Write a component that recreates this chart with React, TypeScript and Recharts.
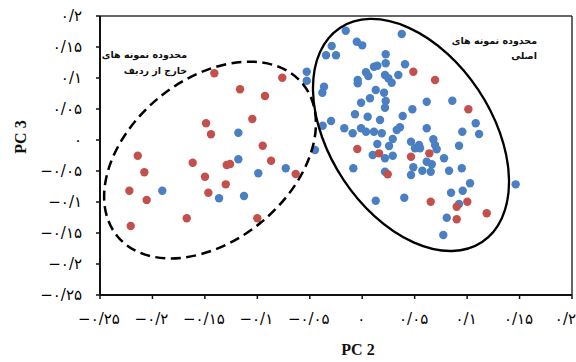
import React from "react";
import {
  ScatterChart,
  Scatter,
  XAxis,
  YAxis,
  ReferenceLine,
  ReferenceDot,
} from "recharts";

// axis ticks (same for both axes) and their Persian labels
const TICKS = [-0.25, -0.2, -0.15, -0.1, -0.05, 0, 0.05, 0.1, 0.15, 0.2];
const TICK_LABELS = [
  "−۰/۲۵",
  "−۰/۲",
  "−۰/۱۵",
  "−۰/۱",
  "−۰/۰۵",
  "۰",
  "۰/۰۵",
  "۰/۱",
  "۰/۱۵",
  "۰/۲",
];

// [PC2, PC3] pairs
const mainBlue: [number, number][] = [
  [-0.0157, 0.1763], [0.0377, 0.171], [-0.0291, 0.1516], [-0.0052, 0.1585], [0.0, 0.1527],
  [-0.0345, 0.1366], [-0.025, 0.1366], [0.0224, 0.1382], [0.0224, 0.1237], [0.0408, 0.1221],
  [0.0112, 0.1182], [0.0144, 0.1198], [0.0036, 0.1092], [0.0058, 0.1032], [-0.0043, 0.0968],
  [-0.0043, 0.0915], [0.0217, 0.1048], [0.0249, 0.0995], [0.0281, 0.0924], [0.0344, 0.1048],
  [-0.0364, 0.086], [-0.038, 0.0763], [0.0129, 0.0806], [0.0208, 0.0763], [0.0074, 0.0673],
  [-0.0011, 0.0602], [0.0224, 0.0629], [0.0217, 0.0521], [0.0615, 0.0618], [-0.0069, 0.0415],
  [0.0052, 0.0376], [0.017, 0.0323], [0.0386, 0.0387], [0.0478, 0.0495], [-0.0297, 0.0306],
  [-0.0377, 0.0231], [-0.0171, 0.0189], [-0.0011, 0.0189], [0.0036, 0.0134], [0.0112, 0.0134],
  [0.0186, 0.0108], [0.0329, 0.0161], [0.036, 0.0205], [0.0615, 0.0189], [-0.0091, 0.0108],
  [0.0859, 0.0634], [0.1082, 0.0269], [0.0954, 0.0134], [0.1114, 0.0097], [0.0144, -0.0065],
  [0.0256, -0.0097], [0.0291, 0.0016], [0.01, -0.0242], [0.0217, -0.0295], [0.0291, -0.0253],
  [0.0465, -0.0027], [0.0503, -0.0134], [0.0542, -0.0081], [0.0551, -0.0134], [0.0678, 0.0011],
  [0.0694, -0.0081], [0.071, -0.015], [0.0923, -0.0092], [0.078, -0.0295], [0.0615, -0.035],
  [0.0663, -0.0392], [0.0487, -0.044], [0.0573, -0.0495], [0.0653, -0.0511], [0.0465, -0.0565],
  [-0.0085, -0.0456], [0.0217, -0.0511], [0.0828, -0.0495], [0.0949, -0.0456], [0.1028, -0.0698],
  [0.0958, -0.0818], [0.0847, -0.085], [0.1463, -0.0715], [0.0129, -0.0979], [0.0401, -0.0931],
  [0.0923, -0.1032], [0.0806, -0.1253], [0.0773, -0.1532],
];

const mainRed: [number, number][] = [
  [0.0487, 0.1102], [0.0694, 0.0968], [0.1012, 0.0495], [-0.0047, -0.0145], [0.016, -0.0215],
  [0.0465, -0.0269], [0.064, -0.0215], [0.0243, -0.0553], [0.0653, -0.0995], [0.1002, -0.0995],
  [0.0901, -0.1076], [0.1187, -0.1182], [0.0901, -0.1279],
];

const outlierBlue: [number, number][] = [
  [-0.0529, 0.1102], [-0.0529, 0.0956], [-0.045, -0.0161], [-0.1181, 0.0118], [-0.1181, -0.0311],
  [-0.0729, -0.0456], [-0.0991, -0.0537], [-0.1906, -0.0818], [-0.1365, -0.094], [-0.1127, -0.0903],
];

const outlierRed: [number, number][] = [
  [-0.141, 0.1076], [-0.0762, 0.1005], [-0.1165, 0.0818], [-0.0927, 0.071], [-0.1048, 0.0339],
  [-0.1489, 0.0269], [-0.1442, 0.0092], [-0.0949, -0.0092], [-0.214, -0.0253], [-0.1616, -0.0366],
  [-0.1292, -0.0403], [-0.126, -0.0387], [-0.0869, -0.0334], [-0.2077, -0.0521], [-0.1499, -0.0592],
  [-0.0634, -0.0548], [-0.1301, -0.0715], [-0.222, -0.0818], [-0.1467, -0.085], [-0.2055, -0.0968],
  [-0.1673, -0.1263], [-0.1, -0.1263], [-0.2207, -0.1387],
];

// annotation texts
const OUTLIER_LABEL = ["محدوده نمونه های", "خارج از ردیف"];
const MAIN_LABEL = ["محدوده نمونه های", "اصلی"];

const toObj = (arr: [number, number][]) => arr.map(([x, y]) => ({ x, y }));
const blueData = [...toObj(mainBlue), ...toObj(outlierBlue)];
const redData = [...toObj(mainRed), ...toObj(outlierRed)];

const BLUE = "#4A7FC4";
const RED = "#C4504D";
const FONT = "DejaVu Sans";
const TICK_FS = 15;

const fmt = (v: number) => {
  const i = TICKS.findIndex((t) => Math.abs(t - v) < 1e-9);
  return i >= 0 ? TICK_LABELS[i] : "";
};

const XTick = (p: any) => {
  const v = p.payload.value;
  const last = Math.abs(v - TICKS[TICKS.length - 1]) < 1e-9;
  return (
    <text
      x={last ? p.x + 4 : p.x - 1}
      y={p.y}
      dy="0.71em"
      textAnchor={last ? "end" : "middle"}
      fontFamily={FONT}
      fontSize={TICK_FS}
      fill="#000"
    >
      {fmt(v)}
    </text>
  );
};

const YTick = (p: any) => (
  <text
    x={p.x}
    y={p.y}
    dy="0.35em"
    textAnchor="end"
    fontFamily={FONT}
    fontSize={TICK_FS}
    fill="#000"
  >
    {fmt(p.payload.value)}
  </text>
);

const Dot = (color: string) => (p: any) =>
  p.cx == null ? null : <circle cx={p.cx} cy={p.cy} r={4.2} fill={color} />;

const DashedEllipse = (p: any) => (
  <ellipse
    cx={p.cx}
    cy={p.cy}
    rx={120}
    ry={80.6}
    transform={`rotate(-39.4 ${p.cx} ${p.cy})`}
    fill="none"
    stroke="#000"
    strokeWidth={2.5}
    strokeDasharray="10 5.5"
  />
);

const SolidEllipse = (p: any) => (
  <ellipse
    cx={p.cx}
    cy={p.cy}
    rx={128.5}
    ry={81}
    transform={`rotate(56.4 ${p.cx} ${p.cy})`}
    fill="none"
    stroke="#000"
    strokeWidth={2.3}
  />
);

const TwoLines = (lines: string[]) => (p: any) => (
  <text
    x={p.cx}
    y={p.cy}
    textAnchor="end"
    fontFamily={FONT}
    fontWeight="bold"
    fontSize={9.5}
    fill="#111"
  >
    {lines.map((l, i) => (
      <tspan key={i} x={p.cx} dy={i === 0 ? "0.35em" : 15.5}>
        {l}
      </tspan>
    ))}
  </text>
);

const YTitle = () => (
  <text
    x={20}
    y={137}
    transform="rotate(-90 20 137)"
    textAnchor="middle"
    dominantBaseline="central"
    fontFamily="Liberation Serif"
    fontWeight="bold"
    fontSize={16}
    fill="#111"
  >
    PC 3
  </text>
);

const XTitle = () => (
  <text
    x={358}
    y={355}
    textAnchor="middle"
    fontFamily="Liberation Serif"
    fontWeight="bold"
    fontSize={16}
    fill="#111"
  >
    PC 2
  </text>
);

export default function App() {
  return (
    <div style={{ position: "absolute", left: 0, top: 0, width: 576, height: 362, background: "#fff" }}>
      <ScatterChart width={576} height={362} margin={{ top: 16, right: 4, bottom: 0, left: 0 }}>
        <XAxis
          type="number"
          dataKey="x"
          domain={[-0.25, 0.2]}
          ticks={TICKS}
          interval={0}
          height={67}
          tickSize={4}
          tickMargin={14}
          axisLine={{ stroke: "#111", strokeWidth: 2 }}
          tickLine={{ stroke: "#111", strokeWidth: 1.5 }}
          tick={<XTick />}
          label={<XTitle />}
          allowDataOverflow
        />
        <YAxis
          type="number"
          dataKey="y"
          domain={[-0.25, 0.2]}
          ticks={TICKS}
          interval={0}
          width={100}
          tickSize={4}
          tickMargin={14}
          axisLine={{ stroke: "#111", strokeWidth: 2 }}
          tickLine={{ stroke: "#111", strokeWidth: 1.5 }}
          tick={<YTick />}
          label={<YTitle />}
          allowDataOverflow
        />
        <ReferenceLine y={0.2} stroke="#333" strokeWidth={1.5} />
        <ReferenceLine x={0.2} stroke="#333" strokeWidth={1.5} />
        <Scatter data={blueData} fill={BLUE} shape={Dot(BLUE)} isAnimationActive={false} />
        <Scatter data={redData} fill={RED} shape={Dot(RED)} isAnimationActive={false} />
        <ReferenceDot x={-0.1451} y={-0.0323} shape={DashedEllipse} />
        <ReferenceDot x={0.0465} y={0.0081} shape={SolidEllipse} />
        <ReferenceDot x={-0.167} y={0.137} shape={TwoLines(OUTLIER_LABEL)} />
        <ReferenceDot x={0.1667} y={0.161} shape={TwoLines(MAIN_LABEL)} />
      </ScatterChart>
    </div>
  );
}
